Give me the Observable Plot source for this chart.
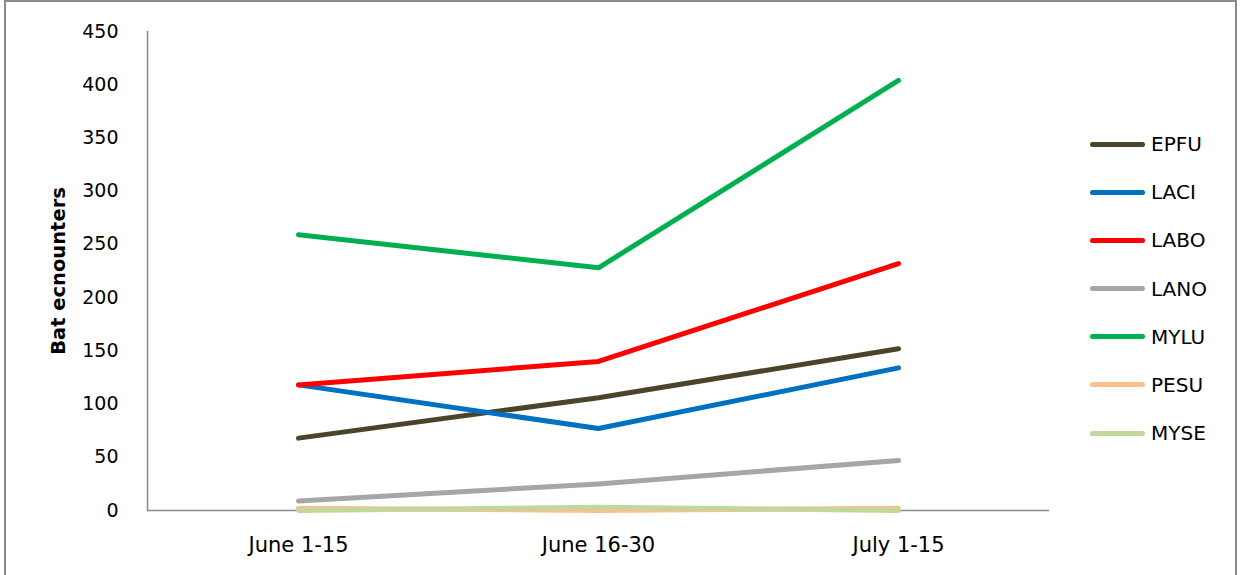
<!DOCTYPE html>
<html>
<head>
<meta charset="utf-8">
<script src="https://cdn.jsdelivr.net/npm/d3@7"></script>
<script src="https://cdn.jsdelivr.net/npm/@observablehq/plot@0.6"></script>
<style>
  html, body { margin: 0; padding: 0; background: #fff; }
  #wrap { position: relative; width: 1241px; height: 575px; overflow: hidden; font-family: "DejaVu Sans", sans-serif; }
  #border { position: absolute; left: 4px; top: 0px; width: 1233px; height: 580px; border: 2px solid #8a8a8a; box-sizing: border-box; }
  #legend { position: absolute; left: 1090px; top: 120px; }
  .item { position: relative; height: 48.2px; }
  .sw { position: absolute; left: 0; top: 21.5px; width: 55px; height: 5px; border-radius: 3px; }
  .lb { position: absolute; left: 61px; top: 12px; font-size: 20px; line-height: 24px; color: #000; }
</style>
</head>
<body>
<div id="wrap"><div id="border"></div><div id="legend"></div></div>
<script>
const periods = ["June 1-15", "June 16-30", "July 1-15"];
const species = ["EPFU", "LACI", "LABO", "LANO", "MYLU", "PESU", "MYSE"];
const colors = ["#4a452a", "#0070c0", "#ff0000", "#a6a6a6", "#00b050", "#fac090", "#c3d69b"];
const EPFU = [68, 106, 152];
const LACI = [118, 77, 134];
const LABO = [118, 140, 232];
const LANO = [9, 25, 47];
const MYLU = [259, 228, 404];
const PESU = [2, 0, 2];
const MYSE = [0, 3, 0];
const yTicks = [0, 50, 100, 150, 200, 250, 300, 350, 400, 450];
const yLabel = "Bat ecnounters";

const seriesValues = {EPFU, LACI, LABO, LANO, MYLU, PESU, MYSE};
const rows = species.flatMap(s => periods.map((p, i) => ({species: s, period: p, value: seriesValues[s][i]})));

const chart = Plot.plot({
  width: 1241,
  height: 575,
  marginLeft: 147,
  marginRight: 192,
  marginTop: 31,
  marginBottom: 65,
  style: {fontFamily: "'DejaVu Sans', sans-serif", fontSize: "20px", color: "#000", background: "transparent"},
  x: {type: "point", domain: periods, padding: 0.5, label: null},
  y: {domain: [0, 450], ticks: yTicks, label: null},
  color: {domain: species, range: colors},
  marks: [
    Plot.axisX({tickSize: 0, tickPadding: 27, fontSize: 21, label: null}),
    Plot.axisY({ticks: yTicks, tickSize: 0, tickPadding: 29, fontSize: 19, label: null}),
    Plot.ruleY([0], {stroke: "#8a8a8a", strokeWidth: 1.5}),
    Plot.frame({anchor: "left", stroke: "#8a8a8a", strokeWidth: 1.5}),
    Plot.line(rows, {x: "period", y: "value", z: "species", stroke: "species", strokeWidth: 5, strokeLinecap: "round", strokeLinejoin: "round", curve: "linear"}),
    Plot.text([yLabel], {frameAnchor: "left", textAnchor: "middle", dx: -89, rotate: -90, fontWeight: "bold", fontSize: 19.5, fill: "#000"})
  ]
});
document.getElementById("wrap").insertBefore(chart, document.getElementById("border"));
chart.style.position = "absolute";
chart.style.left = "0";
chart.style.top = "0";

const legend = document.getElementById("legend");
species.forEach((s, i) => {
  const it = document.createElement("div");
  it.className = "item";
  it.innerHTML = `<div class="sw" style="background:${colors[i]}"></div><div class="lb">${s}</div>`;
  legend.appendChild(it);
});
</script>
</body>
</html>
